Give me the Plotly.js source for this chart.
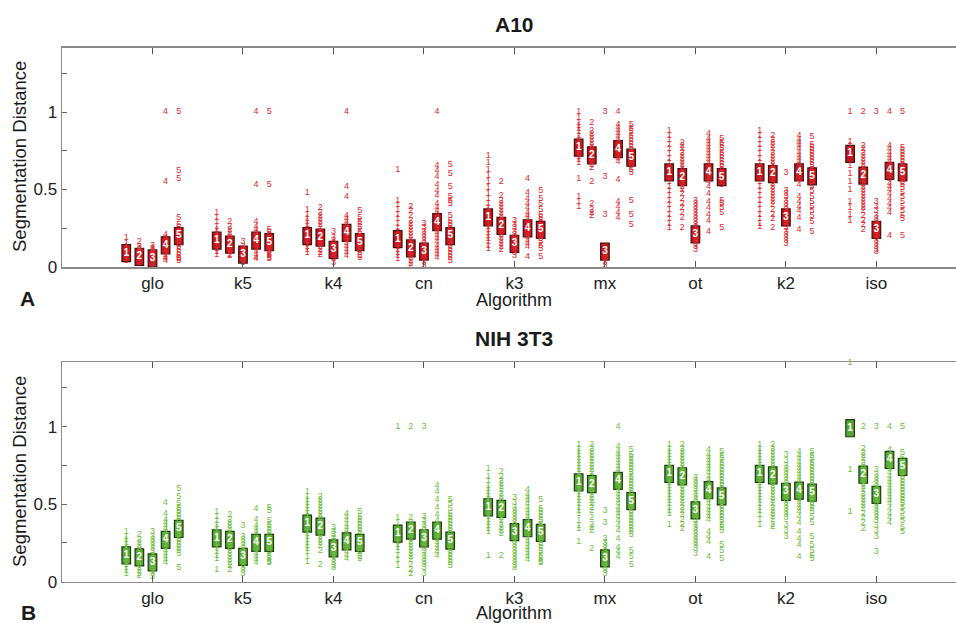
<!DOCTYPE html>
<html>
<head>
<meta charset="utf-8">
<script src="https://cdn.plot.ly/plotly-3.0.1.min.js"></script>
<style>html,body{margin:0;padding:0;background:#fff;}#chart{width:956px;height:623px;}</style>
</head>
<body>
<div id="chart"></div>
<script>
// ---------- categories / labels ----------
const algorithms = ['glo', 'k5', 'k4', 'cn', 'k3', 'mx', 'ot', 'k2', 'iso'];
const seriesLabels = ['1', '2', '3', '4', '5'];
const yTickVals = [0, 0.25, 0.5, 0.75, 1, 1.25];
const yTickText = ['0', '', '0.5', '', '1', ''];

// ---------- A10 : per algorithm, 5 runs (values) ----------
const a10_glo = [
  [0.19, 0.15, 0.13, 0.12, 0.11, 0.10, 0.09, 0.08, 0.07, 0.06, 0.05, 0.04],
  [0.16, 0.13, 0.12, 0.11, 0.10, 0.09, 0.08, 0.07, 0.06, 0.05, 0.04, 0.03],
  [0.14, 0.12, 0.11, 0.10, 0.09, 0.08, 0.07, 0.06, 0.05, 0.04, 0.03, 0.02, 0.01],
  [1.0, 0.55, 0.21, 0.19, 0.17, 0.15, 0.13, 0.11, 0.09, 0.07, 0.06, 0.05, 0.04],
  [1.0, 0.62, 0.57, 0.32, 0.27, 0.25, 0.23, 0.21, 0.19, 0.17, 0.15, 0.13, 0.11, 0.09, 0.07, 0.06, 0.05, 0.04]
];
const a10_k5 = [
  [0.35, 0.32, 0.29, 0.26, 0.24, 0.22, 0.20, 0.18, 0.16, 0.14, 0.12, 0.10, 0.08],
  [0.29, 0.26, 0.24, 0.22, 0.20, 0.18, 0.16, 0.14, 0.12, 0.10, 0.08, 0.07],
  [0.16, 0.13, 0.11, 0.10, 0.09, 0.08, 0.07, 0.06, 0.05, 0.04, 0.03],
  [1.0, 0.53, 0.29, 0.26, 0.24, 0.22, 0.20, 0.18, 0.16, 0.14, 0.12, 0.10, 0.08, 0.06, 0.05],
  [1.0, 0.53, 0.24, 0.22, 0.20, 0.18, 0.16, 0.14, 0.12, 0.10, 0.08, 0.07, 0.06, 0.05]
];
const a10_k4 = [
  [0.48, 0.37, 0.34, 0.31, 0.29, 0.27, 0.25, 0.23, 0.21, 0.19, 0.17, 0.15, 0.13, 0.11, 0.09],
  [0.38, 0.35, 0.33, 0.31, 0.29, 0.27, 0.25, 0.23, 0.21, 0.19, 0.17, 0.15, 0.13, 0.11, 0.09, 0.08],
  [0.23, 0.19, 0.17, 0.15, 0.13, 0.11, 0.09, 0.07, 0.05, 0.03],
  [1.0, 0.52, 0.45, 0.33, 0.31, 0.29, 0.27, 0.25, 0.23, 0.21, 0.19, 0.17, 0.15, 0.13, 0.11, 0.09, 0.07],
  [0.36, 0.32, 0.29, 0.27, 0.25, 0.23, 0.21, 0.19, 0.17, 0.15, 0.13, 0.11, 0.09, 0.07, 0.06]
];
const a10_cn = [
  [0.63, 0.43, 0.40, 0.37, 0.34, 0.31, 0.28, 0.25, 0.23, 0.21, 0.19, 0.17, 0.15, 0.13, 0.11, 0.09, 0.07, 0.05],
  [0.39, 0.36, 0.33, 0.30, 0.28, 0.26, 0.24, 0.22, 0.20, 0.18, 0.16, 0.14, 0.12, 0.10, 0.08, 0.06, 0.04, 0.02, 0.01],
  [0.28, 0.25, 0.23, 0.21, 0.19, 0.17, 0.15, 0.13, 0.11, 0.09, 0.07, 0.05, 0.03, 0.01],
  [1.0, 0.65, 0.62, 0.58, 0.53, 0.49, 0.46, 0.41, 0.38, 0.36, 0.34, 0.32, 0.30, 0.28, 0.26, 0.24, 0.22, 0.20, 0.18, 0.16, 0.14, 0.12, 0.10, 0.08, 0.06],
  [0.66, 0.60, 0.52, 0.45, 0.43, 0.41, 0.33, 0.30, 0.28, 0.26, 0.24, 0.22, 0.20, 0.18, 0.16, 0.14, 0.12, 0.10, 0.08, 0.06, 0.04]
];
const a10_k3 = [
  [0.72, 0.67, 0.63, 0.59, 0.55, 0.51, 0.47, 0.44, 0.41, 0.38, 0.36, 0.34, 0.32, 0.30, 0.28, 0.26, 0.24, 0.22, 0.20, 0.18, 0.16, 0.14, 0.12],
  [0.55, 0.46, 0.43, 0.41, 0.39, 0.37, 0.35, 0.33, 0.31, 0.29, 0.27, 0.25, 0.23, 0.21, 0.19, 0.17, 0.15, 0.13, 0.11],
  [0.30, 0.27, 0.25, 0.23, 0.21, 0.19, 0.17, 0.15, 0.13, 0.11, 0.09, 0.07],
  [0.57, 0.48, 0.44, 0.41, 0.38, 0.35, 0.33, 0.31, 0.29, 0.27, 0.25, 0.23, 0.21, 0.19, 0.17, 0.15, 0.13, 0.065],
  [0.49, 0.44, 0.41, 0.37, 0.34, 0.32, 0.30, 0.28, 0.26, 0.24, 0.22, 0.20, 0.18, 0.16, 0.14, 0.12, 0.065]
];
const a10_mx = [
  [1.0, 0.96, 0.93, 0.91, 0.89, 0.87, 0.85, 0.83, 0.81, 0.79, 0.77, 0.75, 0.73, 0.71, 0.69, 0.67, 0.57, 0.45, 0.42, 0.39],
  [0.93, 0.88, 0.86, 0.84, 0.82, 0.80, 0.78, 0.76, 0.74, 0.72, 0.70, 0.68, 0.66, 0.64, 0.55, 0.41, 0.37, 0.35, 0.33],
  [1.0, 0.58, 0.34, 0.07, 0.05, 0.03, 0.01],
  [1.0, 0.92, 0.90, 0.88, 0.86, 0.84, 0.82, 0.80, 0.78, 0.76, 0.74, 0.72, 0.70, 0.68, 0.56, 0.42, 0.39, 0.35, 0.32],
  [0.92, 0.89, 0.87, 0.85, 0.83, 0.81, 0.79, 0.77, 0.75, 0.73, 0.71, 0.69, 0.67, 0.65, 0.63, 0.61, 0.43, 0.34, 0.27]
];
const a10_ot = [
  [0.88, 0.85, 0.82, 0.79, 0.76, 0.73, 0.70, 0.67, 0.64, 0.61, 0.58, 0.55, 0.52, 0.49, 0.46, 0.43, 0.40, 0.37, 0.34, 0.31, 0.28, 0.25],
  [0.80, 0.78, 0.76, 0.74, 0.72, 0.70, 0.68, 0.66, 0.64, 0.62, 0.60, 0.58, 0.56, 0.54, 0.52, 0.50, 0.47, 0.44, 0.41, 0.38, 0.35, 0.32, 0.25],
  [0.43, 0.41, 0.39, 0.37, 0.35, 0.33, 0.31, 0.29, 0.27, 0.25, 0.23, 0.21, 0.19, 0.17, 0.15, 0.13, 0.11],
  [0.86, 0.83, 0.81, 0.79, 0.77, 0.75, 0.73, 0.71, 0.69, 0.67, 0.65, 0.63, 0.61, 0.59, 0.57, 0.55, 0.52, 0.47, 0.42, 0.38, 0.34, 0.30, 0.23],
  [0.83, 0.80, 0.78, 0.76, 0.74, 0.72, 0.70, 0.68, 0.66, 0.64, 0.62, 0.60, 0.58, 0.56, 0.53, 0.43, 0.41, 0.38, 0.35, 0.25]
];
const a10_k2 = [
  [0.88, 0.85, 0.82, 0.79, 0.76, 0.73, 0.70, 0.67, 0.64, 0.61, 0.58, 0.55, 0.52, 0.49, 0.46, 0.43, 0.40, 0.37, 0.34, 0.31, 0.28, 0.26],
  [0.85, 0.82, 0.80, 0.78, 0.76, 0.74, 0.72, 0.70, 0.68, 0.66, 0.64, 0.62, 0.60, 0.58, 0.56, 0.54, 0.52, 0.50, 0.48, 0.46, 0.44, 0.42, 0.40, 0.37, 0.34, 0.31, 0.25],
  [0.61, 0.49, 0.47, 0.45, 0.43, 0.41, 0.39, 0.37, 0.35, 0.33, 0.31, 0.29, 0.27, 0.25, 0.23, 0.21, 0.19, 0.17, 0.15],
  [0.85, 0.82, 0.80, 0.78, 0.76, 0.74, 0.72, 0.70, 0.68, 0.66, 0.64, 0.62, 0.60, 0.58, 0.56, 0.53, 0.45, 0.42, 0.39, 0.36, 0.32, 0.24],
  [0.84, 0.79, 0.77, 0.75, 0.73, 0.71, 0.69, 0.67, 0.65, 0.63, 0.61, 0.59, 0.57, 0.55, 0.52, 0.49, 0.45, 0.42, 0.39, 0.36, 0.33, 0.29, 0.23]
];
const a10_iso = [
  [1.0, 0.81, 0.78, 0.75, 0.65, 0.60, 0.55, 0.50, 0.42, 0.38, 0.34, 0.30],
  [1.0, 0.78, 0.76, 0.74, 0.72, 0.70, 0.68, 0.66, 0.64, 0.62, 0.60, 0.58, 0.56, 0.54, 0.52, 0.50, 0.48, 0.46, 0.44, 0.42, 0.40, 0.38, 0.36, 0.33, 0.30, 0.27, 0.24],
  [1.0, 0.42, 0.39, 0.36, 0.33, 0.31, 0.29, 0.27, 0.25, 0.23, 0.21, 0.19, 0.17, 0.15, 0.13, 0.11, 0.10],
  [1.0, 0.78, 0.76, 0.74, 0.72, 0.70, 0.68, 0.66, 0.64, 0.62, 0.60, 0.58, 0.56, 0.54, 0.52, 0.50, 0.47, 0.44, 0.41, 0.38, 0.35, 0.20],
  [1.0, 0.77, 0.75, 0.73, 0.71, 0.69, 0.67, 0.65, 0.63, 0.61, 0.59, 0.57, 0.55, 0.53, 0.51, 0.48, 0.45, 0.42, 0.39, 0.36, 0.33, 0.31, 0.20]
];
// medians (boxed labels), one row per algorithm, runs 1..5
const a10_medians = [
  [0.09, 0.065, 0.055, 0.14, 0.20],
  [0.17, 0.145, 0.08, 0.17, 0.16],
  [0.20, 0.19, 0.11, 0.22, 0.16],
  [0.18, 0.12, 0.10, 0.29, 0.20],
  [0.32, 0.265, 0.15, 0.25, 0.24],
  [0.77, 0.72, 0.10, 0.76, 0.705],
  [0.61, 0.58, 0.21, 0.61, 0.58],
  [0.61, 0.60, 0.32, 0.61, 0.585],
  [0.73, 0.59, 0.24, 0.62, 0.61]
];

// ---------- NIH 3T3 ----------
const nih_glo = [
  [0.32, 0.29, 0.27, 0.25, 0.23, 0.21, 0.19, 0.17, 0.15, 0.13, 0.11, 0.09, 0.07, 0.05],
  [0.30, 0.27, 0.25, 0.23, 0.21, 0.19, 0.17, 0.15, 0.13, 0.11, 0.09, 0.07, 0.05, 0.04],
  [0.32, 0.29, 0.27, 0.25, 0.23, 0.21, 0.19, 0.17, 0.15, 0.13, 0.11, 0.09, 0.07, 0.05, 0.03],
  [0.51, 0.44, 0.40, 0.38, 0.36, 0.34, 0.32, 0.30, 0.28, 0.26, 0.24, 0.22, 0.20, 0.18, 0.16, 0.14, 0.12],
  [0.60, 0.55, 0.50, 0.48, 0.46, 0.44, 0.42, 0.40, 0.38, 0.36, 0.34, 0.32, 0.30, 0.28, 0.26, 0.24, 0.22, 0.20, 0.18, 0.09]
];
const nih_k5 = [
  [0.45, 0.42, 0.39, 0.37, 0.35, 0.33, 0.31, 0.29, 0.27, 0.25, 0.23, 0.21, 0.19, 0.17, 0.15, 0.075],
  [0.43, 0.40, 0.38, 0.36, 0.34, 0.32, 0.30, 0.28, 0.26, 0.24, 0.22, 0.20, 0.18, 0.16, 0.14, 0.12, 0.10, 0.08],
  [0.36, 0.29, 0.27, 0.25, 0.23, 0.21, 0.19, 0.17, 0.15, 0.13, 0.11, 0.09, 0.07, 0.05],
  [0.47, 0.40, 0.36, 0.34, 0.32, 0.30, 0.28, 0.26, 0.24, 0.22, 0.20, 0.18, 0.16, 0.14, 0.12],
  [0.48, 0.46, 0.39, 0.37, 0.35, 0.33, 0.31, 0.29, 0.27, 0.25, 0.23, 0.21, 0.19, 0.17, 0.15, 0.13, 0.12]
];
const nih_k4 = [
  [0.58, 0.55, 0.53, 0.51, 0.49, 0.47, 0.45, 0.43, 0.41, 0.39, 0.37, 0.35, 0.33, 0.31, 0.29, 0.27, 0.25, 0.23, 0.21, 0.19, 0.16, 0.13],
  [0.55, 0.53, 0.51, 0.49, 0.47, 0.45, 0.43, 0.41, 0.39, 0.37, 0.35, 0.33, 0.31, 0.29, 0.27, 0.25, 0.23, 0.20, 0.11],
  [0.35, 0.32, 0.30, 0.28, 0.26, 0.24, 0.22, 0.20, 0.18, 0.16, 0.14, 0.12, 0.10, 0.09],
  [0.44, 0.41, 0.39, 0.37, 0.35, 0.33, 0.31, 0.29, 0.27, 0.25, 0.23, 0.21, 0.19, 0.17, 0.15],
  [0.45, 0.42, 0.40, 0.38, 0.36, 0.34, 0.32, 0.30, 0.28, 0.26, 0.24, 0.22, 0.20, 0.18, 0.16, 0.15]
];
const nih_cn = [
  [1.0, 0.41, 0.38, 0.35, 0.32, 0.30, 0.28, 0.26, 0.24, 0.22, 0.20, 0.17, 0.14, 0.10],
  [1.0, 0.41, 0.38, 0.36, 0.34, 0.32, 0.30, 0.28, 0.26, 0.24, 0.22, 0.20, 0.18, 0.16, 0.14, 0.11, 0.08, 0.05],
  [1.0, 0.42, 0.39, 0.37, 0.35, 0.33, 0.31, 0.29, 0.27, 0.25, 0.23, 0.21, 0.19, 0.17, 0.15, 0.13, 0.11, 0.09, 0.05],
  [0.62, 0.58, 0.53, 0.48, 0.43, 0.39, 0.37, 0.35, 0.33, 0.31, 0.29, 0.27, 0.25, 0.23, 0.21, 0.19, 0.17],
  [0.53, 0.50, 0.47, 0.44, 0.42, 0.40, 0.38, 0.36, 0.34, 0.32, 0.30, 0.28, 0.26, 0.24, 0.22, 0.20, 0.18, 0.16, 0.14, 0.12, 0.10]
];
const nih_k3 = [
  [0.73, 0.68, 0.65, 0.62, 0.60, 0.58, 0.56, 0.54, 0.52, 0.50, 0.48, 0.46, 0.44, 0.42, 0.40, 0.38, 0.36, 0.34, 0.32, 0.17],
  [0.71, 0.68, 0.65, 0.63, 0.61, 0.59, 0.57, 0.55, 0.53, 0.51, 0.49, 0.47, 0.45, 0.43, 0.41, 0.39, 0.37, 0.35, 0.33, 0.31, 0.165],
  [0.54, 0.51, 0.48, 0.46, 0.44, 0.42, 0.40, 0.38, 0.36, 0.34, 0.32, 0.30, 0.28, 0.26, 0.24, 0.22, 0.20, 0.18, 0.16, 0.14, 0.12, 0.10, 0.09],
  [0.59, 0.56, 0.54, 0.52, 0.50, 0.48, 0.46, 0.44, 0.42, 0.40, 0.38, 0.36, 0.34, 0.32, 0.30, 0.28, 0.26, 0.24, 0.22, 0.20, 0.18, 0.16, 0.14],
  [0.53, 0.47, 0.45, 0.43, 0.41, 0.39, 0.37, 0.35, 0.33, 0.31, 0.29, 0.27, 0.25, 0.23, 0.21, 0.19, 0.17, 0.15, 0.13, 0.12]
];
const nih_mx = [
  [0.88, 0.86, 0.84, 0.82, 0.80, 0.78, 0.76, 0.74, 0.72, 0.70, 0.68, 0.66, 0.64, 0.62, 0.60, 0.58, 0.56, 0.54, 0.52, 0.50, 0.48, 0.46, 0.44, 0.39, 0.36, 0.34, 0.26],
  [0.88, 0.86, 0.84, 0.82, 0.80, 0.78, 0.76, 0.74, 0.72, 0.70, 0.68, 0.66, 0.64, 0.62, 0.60, 0.58, 0.56, 0.54, 0.52, 0.50, 0.48, 0.46, 0.41, 0.37, 0.35, 0.33, 0.215],
  [0.46, 0.38, 0.28, 0.25, 0.23, 0.21, 0.19, 0.17, 0.15, 0.13, 0.11, 0.09, 0.07, 0.05],
  [1.0, 0.87, 0.84, 0.82, 0.80, 0.78, 0.76, 0.74, 0.72, 0.70, 0.68, 0.66, 0.64, 0.62, 0.60, 0.58, 0.56, 0.54, 0.52, 0.50, 0.48, 0.46, 0.44, 0.42, 0.39, 0.36, 0.33, 0.28, 0.22, 0.19, 0.16],
  [0.85, 0.82, 0.80, 0.78, 0.76, 0.74, 0.72, 0.70, 0.68, 0.66, 0.64, 0.62, 0.60, 0.58, 0.56, 0.54, 0.52, 0.50, 0.48, 0.46, 0.44, 0.42, 0.40, 0.38, 0.36, 0.34, 0.32, 0.30, 0.20, 0.16, 0.11]
];
const nih_ot = [
  [0.88, 0.86, 0.84, 0.82, 0.80, 0.78, 0.76, 0.74, 0.72, 0.70, 0.68, 0.66, 0.64, 0.62, 0.60, 0.58, 0.56, 0.54, 0.52, 0.50, 0.48, 0.46, 0.44, 0.37],
  [0.88, 0.86, 0.84, 0.82, 0.80, 0.78, 0.76, 0.74, 0.72, 0.70, 0.68, 0.66, 0.64, 0.62, 0.60, 0.58, 0.56, 0.54, 0.52, 0.50, 0.48, 0.46, 0.43, 0.40, 0.37, 0.34],
  [0.67, 0.65, 0.63, 0.61, 0.59, 0.57, 0.55, 0.53, 0.51, 0.49, 0.47, 0.45, 0.43, 0.41, 0.39, 0.37, 0.35, 0.33, 0.31, 0.29, 0.27, 0.25, 0.23, 0.21, 0.18],
  [0.85, 0.82, 0.80, 0.78, 0.76, 0.74, 0.72, 0.70, 0.68, 0.66, 0.64, 0.62, 0.60, 0.58, 0.56, 0.54, 0.52, 0.50, 0.48, 0.46, 0.44, 0.42, 0.40, 0.32, 0.29, 0.26, 0.16],
  [0.84, 0.81, 0.79, 0.77, 0.75, 0.73, 0.71, 0.69, 0.67, 0.65, 0.63, 0.61, 0.59, 0.57, 0.55, 0.53, 0.51, 0.49, 0.47, 0.45, 0.43, 0.41, 0.39, 0.37, 0.35, 0.33, 0.24, 0.20, 0.15]
];
const nih_k2 = [
  [0.88, 0.86, 0.84, 0.82, 0.80, 0.78, 0.76, 0.74, 0.72, 0.70, 0.68, 0.66, 0.64, 0.62, 0.60, 0.58, 0.56, 0.54, 0.52, 0.50, 0.48, 0.46, 0.43, 0.40, 0.37],
  [0.88, 0.86, 0.84, 0.82, 0.80, 0.78, 0.76, 0.74, 0.72, 0.70, 0.68, 0.66, 0.64, 0.62, 0.60, 0.58, 0.56, 0.54, 0.52, 0.50, 0.48, 0.46, 0.44, 0.42, 0.40, 0.37, 0.355],
  [0.82, 0.78, 0.75, 0.73, 0.71, 0.69, 0.67, 0.65, 0.63, 0.61, 0.59, 0.57, 0.55, 0.53, 0.51, 0.49, 0.47, 0.45, 0.43, 0.41, 0.37, 0.33, 0.29],
  [0.84, 0.81, 0.79, 0.77, 0.75, 0.73, 0.71, 0.69, 0.67, 0.65, 0.63, 0.61, 0.59, 0.57, 0.55, 0.53, 0.51, 0.49, 0.47, 0.45, 0.42, 0.38, 0.32, 0.28, 0.24, 0.16],
  [0.84, 0.81, 0.79, 0.77, 0.75, 0.73, 0.71, 0.69, 0.67, 0.65, 0.63, 0.61, 0.59, 0.57, 0.55, 0.53, 0.51, 0.49, 0.47, 0.45, 0.42, 0.38, 0.29, 0.24, 0.20, 0.17, 0.15]
];
const nih_iso = [
  [1.41, 1.0, 0.99, 0.72, 0.45],
  [1.0, 0.86, 0.83, 0.81, 0.79, 0.77, 0.75, 0.73, 0.71, 0.69, 0.67, 0.65, 0.63, 0.61, 0.59, 0.57, 0.55, 0.53, 0.51, 0.49, 0.47, 0.44, 0.41, 0.38, 0.34],
  [1.0, 0.72, 0.69, 0.67, 0.65, 0.63, 0.61, 0.59, 0.57, 0.55, 0.53, 0.51, 0.49, 0.47, 0.45, 0.43, 0.41, 0.39, 0.36, 0.33, 0.29, 0.19],
  [1.0, 0.85, 0.82, 0.80, 0.78, 0.76, 0.74, 0.72, 0.70, 0.68, 0.66, 0.64, 0.62, 0.60, 0.58, 0.56, 0.54, 0.52, 0.50, 0.47, 0.44, 0.41, 0.38],
  [1.0, 0.83, 0.80, 0.78, 0.76, 0.74, 0.72, 0.70, 0.68, 0.66, 0.64, 0.62, 0.60, 0.58, 0.56, 0.54, 0.52, 0.50, 0.48, 0.45, 0.42, 0.39, 0.35, 0.32]
];
const nih_medians = [
  [0.17, 0.157, 0.125, 0.27, 0.34],
  [0.28, 0.27, 0.16, 0.25, 0.25],
  [0.375, 0.355, 0.215, 0.26, 0.25],
  [0.31, 0.33, 0.28, 0.33, 0.265],
  [0.48, 0.47, 0.32, 0.345, 0.315],
  [0.64, 0.63, 0.15, 0.65, 0.52],
  [0.695, 0.68, 0.46, 0.59, 0.55],
  [0.695, 0.685, 0.58, 0.587, 0.574],
  [0.99, 0.69, 0.56, 0.785, 0.74]
];

// ---------- build ----------
const FONT = 'Arial, "Liberation Sans", Helvetica, sans-serif';
const COL_STEP = 0.145;   // horizontal spacing of runs within a group (x units)
const BOX_W = 0.095;      // box width in x units
const BOX_H = 0.11;       // box height in y units

const a10Data = [a10_glo, a10_k5, a10_k4, a10_cn, a10_k3, a10_mx, a10_ot, a10_k2, a10_iso];
const nihData = [nih_glo, nih_k5, nih_k4, nih_cn, nih_k3, nih_mx, nih_ot, nih_k2, nih_iso];

function panelTraces(data, medians, xa, ya, pointColor, boxFill, boxLine) {
  const traces = [];
  for (let s = 0; s < seriesLabels.length; s++) {
    const x = [], y = [], t = [];
    data.forEach((alg, a) => {
      alg[s].forEach(v => { x.push(a + 1 + (s - 2) * COL_STEP); y.push(v); t.push(seriesLabels[s]); });
    });
    traces.push({
      type: 'scatter', mode: 'text', x: x, y: y, text: t, xaxis: xa, yaxis: ya,
      textfont: {family: FONT, size: 9, color: pointColor}, textposition: 'middle center',
      hoverinfo: 'skip', showlegend: false, cliponaxis: false
    });
  }
  const bx = [], bb = [], bh = [], bt = [], by = [];
  medians.forEach((row, a) => {
    row.forEach((m, s) => {
      bx.push(a + 1 + (s - 2) * COL_STEP);
      bb.push(m - BOX_H / 2);
      bh.push(BOX_H);
      by.push(m);
      bt.push('<b>' + seriesLabels[s] + '</b>');
    });
  });
  traces.push({
    type: 'bar', x: bx, y: bh, base: bb, width: BOX_W, xaxis: xa, yaxis: ya,
    marker: {color: boxFill, line: {color: boxLine, width: 1.2}},
    hoverinfo: 'skip', showlegend: false
  });
  traces.push({
    type: 'scatter', mode: 'text', x: bx, y: by, text: bt, xaxis: xa, yaxis: ya,
    textfont: {family: FONT, size: 10, color: '#ffffff'}, textposition: 'middle center',
    hoverinfo: 'skip', showlegend: false, cliponaxis: false
  });
  return traces;
}

const traces = [].concat(
  panelTraces(a10Data, a10_medians, 'x', 'y', '#e0282e', '#c3161d', '#3d1212'),
  panelTraces(nihData, nih_medians, 'x2', 'y2', '#6fbe40', '#55a734', '#1d3a12')
);

const xBase = {
  range: [0, 9.88], tickmode: 'array', tickvals: algorithms.map((_, i) => i + 1), ticktext: algorithms,
  ticks: 'inside', ticklen: 6, tickcolor: '#555', tickwidth: 1,
  showline: true, linecolor: '#8a8a8a', linewidth: 1.5, mirror: 'ticks',
  showgrid: false, zeroline: false, fixedrange: true,
  tickfont: {family: FONT, size: 17, color: '#222'}
};
const yBase = {
  range: [0, 1.415], tickmode: 'array', tickvals: yTickVals, ticktext: yTickText,
  ticks: 'inside', ticklen: 5, tickcolor: '#666', tickwidth: 1,
  showline: true, linecolor: '#8a8a8a', linewidth: 1.5,
  showgrid: false, zeroline: false, fixedrange: true,
  tickfont: {family: FONT, size: 17, color: '#222'}
};

const H = 623;
function ann(text, xref, x, yPx, size, extra) {
  return Object.assign({text: text, xref: xref, x: x, yref: 'paper', y: 1 - yPx / H,
    xanchor: 'center', yanchor: 'middle', showarrow: false,
    font: {family: FONT, size: size, color: '#1a1a1a'}}, extra || {});
}
const layout = {
  width: 956, height: 623,
  margin: {l: 0, r: 0, t: 0, b: 0},
  paper_bgcolor: '#ffffff', plot_bgcolor: '#ffffff',
  barmode: 'overlay', showlegend: false,
  xaxis: Object.assign({}, xBase, {domain: [62 / 956, 1], anchor: 'y'}),
  yaxis: Object.assign({}, yBase, {domain: [1 - 267 / H, 1 - 47.7 / H], anchor: 'x'}),
  xaxis2: Object.assign({}, xBase, {domain: [62 / 956, 1], anchor: 'y2'}),
  yaxis2: Object.assign({}, yBase, {domain: [1 - 581.7 / H, 1 - 362.3 / H], anchor: 'x2'}),
  annotations: [
    ann('<b>A10</b>', 'x', 5, 24, 21),
    ann('<b>NIH 3T3</b>', 'x2', 5, 338, 21),
    ann('Algorithm', 'x', 5, 300, 18),
    ann('Algorithm', 'x2', 5, 613, 18),
    ann('Segmentation Distance', 'paper', 19 / 956, 157, 18.5, {textangle: -90}),
    ann('Segmentation Distance', 'paper', 19 / 956, 472, 18.5, {textangle: -90}),
    ann('<b>A</b>', 'paper', 27 / 956, 298, 21),
    ann('<b>B</b>', 'paper', 28 / 956, 612, 21)
  ]
};

Plotly.newPlot('chart', traces, layout, {displayModeBar: false, staticPlot: true});
</script>
</body>
</html>
